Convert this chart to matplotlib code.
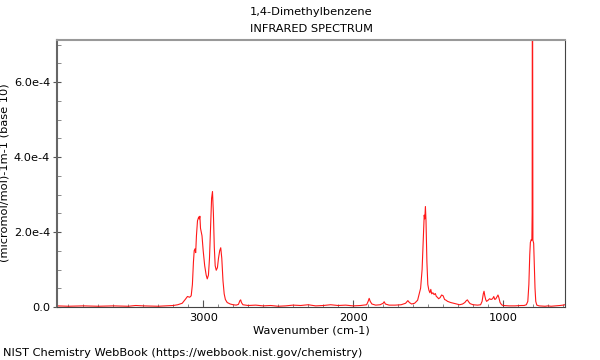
import numpy as np
import matplotlib
matplotlib.use('Agg')
import matplotlib.pyplot as plt
from matplotlib.ticker import MultipleLocator, FuncFormatter

# wavenumber (cm-1) and absorbance (units of 1e-4)
wavenumber = [
    3975, 3900, 3800, 3700, 3600, 3500, 3450, 3400, 3300, 3250, 3200, 3170,
    3140, 3120, 3105, 3090, 3080, 3072, 3065, 3060, 3055, 3050, 3045, 3038,
    3030, 3026, 3022, 3018, 3013, 3008, 3000, 2990, 2980, 2973, 2965, 2958,
    2950, 2944, 2938, 2932, 2926, 2920, 2913, 2905, 2898, 2890, 2883, 2876,
    2868, 2860, 2852, 2840, 2820, 2800, 2780, 2765, 2755, 2750, 2745, 2735,
    2700, 2650, 2600, 2550, 2500, 2450, 2400, 2350, 2300, 2250, 2200, 2150,
    2100, 2050, 2000, 1950, 1910, 1900, 1893, 1886, 1875, 1850, 1820, 1800,
    1793, 1785, 1760, 1720, 1680, 1650, 1635, 1625, 1610, 1590, 1570, 1550,
    1540, 1532, 1526, 1522, 1518, 1514, 1508, 1502, 1495, 1488, 1482, 1476,
    1468, 1460, 1452, 1445, 1438, 1430, 1420, 1410, 1400, 1390, 1380, 1370,
    1350, 1330, 1310, 1290, 1270, 1255, 1245, 1238, 1230, 1220, 1200, 1170,
    1150, 1140, 1132, 1127, 1122, 1116, 1110, 1100, 1090, 1080, 1070, 1062,
    1055, 1048, 1040, 1034, 1028, 1020, 1010, 1000, 960, 920, 880, 860,
    845, 835, 828, 822, 818, 812, 808, 806, 805, 803, 801, 796,
    792, 787, 782, 775, 760, 720, 700, 680, 650, 620, 600, 588,
]
absorbance = [
    0.03, 0.02, 0.03, 0.02, 0.03, 0.02, 0.04, 0.03, 0.02, 0.03, 0.04, 0.06,
    0.10, 0.20, 0.28, 0.26, 0.30, 0.60, 1.20, 1.50, 1.55, 1.45, 1.90, 2.30,
    2.40, 2.35, 2.42, 2.10, 2.00, 1.90, 1.50, 1.10, 0.85, 0.75, 0.85, 1.30,
    2.20, 2.90, 3.08, 2.50, 1.60, 1.10, 0.98, 1.05, 1.30, 1.50, 1.58, 1.30,
    0.70, 0.35, 0.20, 0.12, 0.08, 0.06, 0.05, 0.07, 0.17, 0.19, 0.12, 0.06,
    0.04, 0.05, 0.03, 0.04, 0.02, 0.03, 0.05, 0.04, 0.06, 0.03, 0.04, 0.06,
    0.04, 0.05, 0.03, 0.04, 0.06, 0.15, 0.23, 0.15, 0.08, 0.05, 0.06, 0.10,
    0.14, 0.08, 0.05, 0.05, 0.06, 0.10, 0.17, 0.12, 0.08, 0.10, 0.18, 0.50,
    1.00, 1.80, 2.45, 2.35, 2.68, 2.30, 1.20, 0.60, 0.45, 0.38, 0.47, 0.35,
    0.38, 0.33, 0.36, 0.28, 0.26, 0.22, 0.25, 0.32, 0.30, 0.20, 0.18, 0.15,
    0.12, 0.10, 0.08, 0.06, 0.08, 0.12, 0.17, 0.19, 0.14, 0.09, 0.06, 0.05,
    0.06, 0.15, 0.35, 0.42, 0.30, 0.20, 0.15, 0.18, 0.22, 0.20, 0.22, 0.28,
    0.20, 0.22, 0.28, 0.32, 0.25, 0.12, 0.06, 0.04, 0.03, 0.03, 0.04, 0.04,
    0.06, 0.15, 0.60, 1.40, 1.72, 1.80, 1.78, 2.50, 7.80, 7.80, 1.78, 1.70,
    1.20, 0.50, 0.15, 0.05, 0.03, 0.02, 0.03, 0.02, 0.03, 0.04, 0.05, 0.06,
]

x_tick_labels = ['3000', '2000', '1000']

wn = np.array(wavenumber)
ab = np.array(absorbance) * 1e-4

fs = 8.2

fig = plt.figure(figsize=(6, 3.6), dpi=100)
ax = fig.add_axes([57/600, 53/360, 508/600, 267/360])

ax.plot(wn, ab, color='red', linewidth=0.8, alpha=0.9)

ax.set_xlim(3975, 587)
ax.set_ylim(0, 7.12e-4)

ax.set_xticks([3000, 2000, 1000])
ax.set_xticklabels(x_tick_labels)
ax.xaxis.set_minor_locator(MultipleLocator(100))
ax.yaxis.set_major_locator(MultipleLocator(2e-4))
ax.yaxis.set_minor_locator(MultipleLocator(0.5e-4))
ax.yaxis.set_major_formatter(FuncFormatter(lambda v, p: '0.0' if v == 0 else f'{v:.1e}'.replace('e-0', 'e-')))

ax.tick_params(axis='x', which='major', direction='in', length=5, color='#555555', labelsize=fs, pad=4)
ax.tick_params(axis='x', which='minor', direction='in', length=2.5, color='#777777')
ax.tick_params(axis='y', which='major', direction='inout', length=6, color='#555555', labelsize=fs, pad=2)
ax.tick_params(axis='y', which='minor', direction='in', length=3, color='#777777')

ax.spines['top'].set_color('#999999')
ax.spines['top'].set_linewidth(1.5)
ax.spines['left'].set_color('#666666')
ax.spines['left'].set_linewidth(1.5)
ax.spines['right'].set_color('#444444')
ax.spines['bottom'].set_color('#444444')

ax.set_xlabel('Wavenumber (cm-1)', fontsize=fs, labelpad=2)
ax.set_ylabel('(micromol/mol)-1m-1 (base 10)', fontsize=fs)
ax.yaxis.set_label_coords((10 - 57) / 508, (360 - 173 - 53) / 267)

fig.text(311/600, 1 - 12/360, '1,4-Dimethylbenzene', ha='center', va='center', fontsize=fs)
fig.text(311/600, 1 - 29/360, 'INFRARED SPECTRUM', ha='center', va='center', fontsize=fs)
fig.text(3/600, 1 - 353/360, 'NIST Chemistry WebBook (https://webbook.nist.gov/chemistry)',
         ha='left', va='center', fontsize=fs)

fig.savefig('out.png', dpi=100)
